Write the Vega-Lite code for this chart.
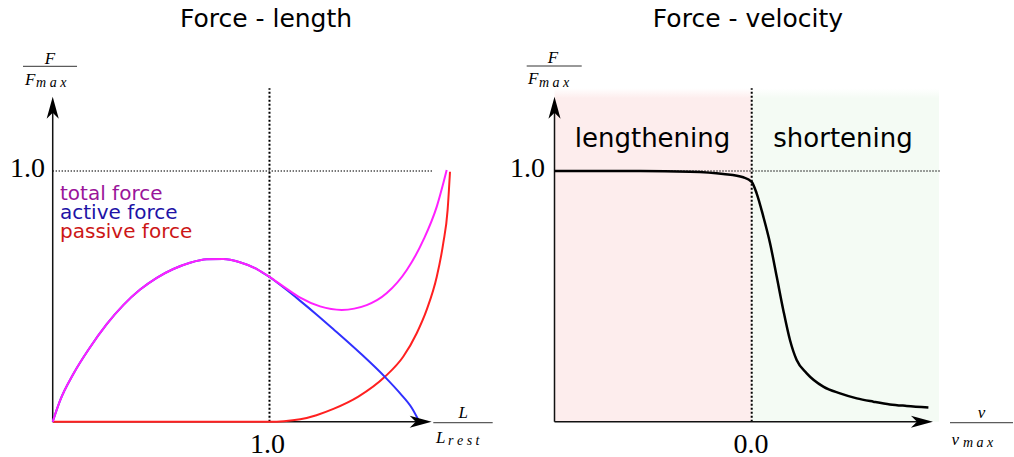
{
  "$schema": "https://vega.github.io/schema/vega-lite/v6.json",
  "background": "white",
  "padding": 0,
  "spacing": 0,
  "config": {"view": {"stroke": null}},
  "resolve": {"scale": {"x": "independent", "y": "independent", "color": "independent"}},
  "datasets": {
    "active": [
      {"x": 0.4, "y": 0}, {"x": 0.42, "y": 0.083}, {"x": 0.457, "y": 0.19}, {"x": 0.503, "y": 0.296},
      {"x": 0.549, "y": 0.388}, {"x": 0.596, "y": 0.466}, {"x": 0.642, "y": 0.527}, {"x": 0.688, "y": 0.574},
      {"x": 0.734, "y": 0.609}, {"x": 0.78, "y": 0.634}, {"x": 0.826, "y": 0.648}, {"x": 0.872, "y": 0.649},
      {"x": 0.918, "y": 0.636}, {"x": 0.965, "y": 0.609}, {"x": 1.0, "y": 0.577}, {"x": 1.04, "y": 0.534},
      {"x": 1.085, "y": 0.482}, {"x": 1.13, "y": 0.428}, {"x": 1.177, "y": 0.369}, {"x": 1.25, "y": 0.275},
      {"x": 1.32, "y": 0.178}, {"x": 1.361, "y": 0.114}, {"x": 1.394, "y": 0.055}, {"x": 1.412, "y": 0.008}
    ],
    "total": [
      {"x": 0.4, "y": 0}, {"x": 0.42, "y": 0.083}, {"x": 0.457, "y": 0.19}, {"x": 0.503, "y": 0.296},
      {"x": 0.549, "y": 0.388}, {"x": 0.596, "y": 0.466}, {"x": 0.642, "y": 0.527}, {"x": 0.688, "y": 0.574},
      {"x": 0.734, "y": 0.609}, {"x": 0.78, "y": 0.634}, {"x": 0.826, "y": 0.648}, {"x": 0.872, "y": 0.649},
      {"x": 0.918, "y": 0.636}, {"x": 0.965, "y": 0.609}, {"x": 1.0, "y": 0.578}, {"x": 1.04, "y": 0.538},
      {"x": 1.085, "y": 0.495}, {"x": 1.14, "y": 0.46}, {"x": 1.2, "y": 0.446}, {"x": 1.269, "y": 0.465},
      {"x": 1.324, "y": 0.512}, {"x": 1.38, "y": 0.605}, {"x": 1.426, "y": 0.725}, {"x": 1.463, "y": 0.858},
      {"x": 1.4905, "y": 1.004}
    ],
    "passive": [
      {"x": 0.4, "y": 0}, {"x": 0.7, "y": 0}, {"x": 1.0, "y": 0}, {"x": 1.04, "y": 0.002},
      {"x": 1.085, "y": 0.0096}, {"x": 1.13, "y": 0.026}, {"x": 1.177, "y": 0.051}, {"x": 1.246, "y": 0.1},
      {"x": 1.32, "y": 0.18}, {"x": 1.37, "y": 0.259}, {"x": 1.4075, "y": 0.353}, {"x": 1.435, "y": 0.446},
      {"x": 1.463, "y": 0.578}, {"x": 1.481, "y": 0.712}, {"x": 1.493, "y": 0.844}, {"x": 1.4996, "y": 0.997}
    ],
    "velocity": [
      {"x": -1, "y": 1.0}, {"x": -0.566, "y": 1.0}, {"x": -0.313, "y": 0.997}, {"x": -0.144, "y": 0.988},
      {"x": -0.043, "y": 0.975}, {"x": 0.0, "y": 0.957}, {"x": 0.025, "y": 0.911}, {"x": 0.059, "y": 0.818},
      {"x": 0.093, "y": 0.712}, {"x": 0.127, "y": 0.578}, {"x": 0.16, "y": 0.446}, {"x": 0.194, "y": 0.326},
      {"x": 0.228, "y": 0.246}, {"x": 0.279, "y": 0.193}, {"x": 0.363, "y": 0.14}, {"x": 0.448, "y": 0.113},
      {"x": 0.533, "y": 0.093}, {"x": 0.617, "y": 0.08}, {"x": 0.701, "y": 0.069}, {"x": 0.786, "y": 0.063},
      {"x": 0.896, "y": 0.057}
    ],
    "fl_axis_v": [{"x": 0.4, "y": 0, "y2": 1.25}],
    "fl_axis_h": [{"x": 0.4, "x2": 1.42, "y": 0}],
    "fl_tip_up": [{"x": 0.4, "y": 1.296}],
    "fl_tip_right": [{"x": 1.449, "y": 0}],
    "fl_dot_v": [{"x": 1.0, "y": 0, "y2": 1.33}],
    "fl_dot_h": [{"x": 0.4, "x2": 1.4534, "y": 1.0}],
    "fl_title": [{"x": 0.9904, "y": 1.5756, "label": "Force - length"}],
    "fl_legend": [
      {"x": 0.4202, "y": 0.8843, "label": "total force"},
      {"x": 0.4202, "y": 0.8073, "label": "active force"},
      {"x": 0.4202, "y": 0.7347, "label": "passive force"}
    ],
    "fl_ytick": [{"x": 0.3787, "y": 0.978, "label": "1.0"}],
    "fl_xtick": [{"x": 0.9945, "y": -0.1237, "label": "1.0"}],
    "fl_num": [{"x": 0.3925, "y": 1.4288, "label": "F"}, {"x": 1.5365, "y": 0.0136, "label": "L"}],
    "fl_den": [{"x": 0.3233, "y": 1.343, "label": "F"}, {"x": 1.4609, "y": -0.0862, "label": "L"}],
    "fl_sub": [{"x": 0.3538, "y": 1.3331, "label": "m a x"}, {"x": 1.4941, "y": -0.0949, "label": "r e s t"}],
    "fl_bar": [{"x": 0.3178, "x2": 0.4673, "y": 1.4176}, {"x": 1.4534, "x2": 1.6178, "y": -0.004}],
    "fv_len": [{"x": -1, "x2": 0, "y": 0, "y2": 1.33}],
    "fv_short": [{"x": 0, "x2": 0.95, "y": 0, "y2": 1.33}],
    "fv_axis_v": [{"x": -1, "y": 0, "y2": 1.25}],
    "fv_axis_h": [{"x": -1, "x2": 0.88, "y": 0}],
    "fv_tip_up": [{"x": -1, "y": 1.296}],
    "fv_tip_right": [{"x": 0.919, "y": 0}],
    "fv_dot_v": [{"x": 0, "y": 0, "y2": 1.33}],
    "fv_dot_h": [{"x": -1, "x2": 0.955, "y": 1.0}],
    "fv_title": [{"x": -0.0188, "y": 1.5756, "label": "Force - velocity"}],
    "fv_region": [{"x": -0.503, "y": 1.0945, "label": "lengthening"}, {"x": 0.463, "y": 1.0945, "label": "shortening"}],
    "fv_ytick": [{"x": -1.0482, "y": 0.976, "label": "1.0"}],
    "fv_xtick": [{"x": -0.0036, "y": -0.1237, "label": "0.0"}],
    "fv_num": [{"x": -1.0076, "y": 1.4296, "label": "F"}, {"x": 1.1653, "y": 0.0136, "label": "v"}],
    "fv_den": [{"x": -1.1344, "y": 1.3458, "label": "F"}, {"x": 1.0132, "y": -0.0929, "label": "v"}],
    "fv_sub": [{"x": -1.0786, "y": 1.336, "label": "m a x"}, {"x": 1.0715, "y": -0.1029, "label": "m a x"}],
    "fv_bar": [{"x": -1.141, "x2": -0.862, "y": 1.4188}, {"x": 1.0056, "x2": 1.3251, "y": -0.004}]
  },
  "hconcat": [
    {
      "width": 507,
      "height": 457,
      "encoding": {
        "x": {"field": "x", "type": "quantitative", "scale": {"domain": [0.2541, 1.6574], "nice": false, "zero": false}, "axis": null},
        "y": {"field": "y", "type": "quantitative", "scale": {"domain": [-0.1408, 1.6821], "nice": false, "zero": false}, "axis": null}
      },
      "layer": [
        {"data": {"name": "fl_dot_v"}, "mark": {"type": "rule", "color": "#000", "strokeWidth": 2, "strokeDash": [2, 2]}, "encoding": {"y2": {"field": "y2"}}},
        {"data": {"name": "fl_dot_h"}, "mark": {"type": "rule", "color": "#000", "strokeWidth": 1.4, "strokeDash": [1, 2]}, "encoding": {"x2": {"field": "x2"}}},
        {"data": {"name": "fl_axis_v"}, "mark": {"type": "rule", "color": "#111", "strokeWidth": 1.5}, "encoding": {"y2": {"field": "y2"}}},
        {"data": {"name": "fl_axis_h"}, "mark": {"type": "rule", "color": "#111", "strokeWidth": 1.5}, "encoding": {"x2": {"field": "x2"}}},
        {"data": {"name": "passive"}, "mark": {"type": "line", "color": "#ff2020", "strokeWidth": 2, "interpolate": "monotone"}, "encoding": {}},
        {"data": {"name": "active"}, "mark": {"type": "line", "color": "#3030ff", "strokeWidth": 2, "interpolate": "monotone"}, "encoding": {}},
        {"data": {"name": "total"}, "mark": {"type": "line", "color": "#ff20ff", "strokeWidth": 2, "interpolate": "monotone"}, "encoding": {}},
        {"data": {"name": "fl_tip_up"}, "mark": {"type": "point", "shape": "M0,0L0.55,2L0,1.45L-0.55,2Z", "size": 484, "filled": true, "color": "#000", "opacity": 1, "strokeWidth": 0, "angle": 0}, "encoding": {}},
        {"data": {"name": "fl_tip_right"}, "mark": {"type": "point", "shape": "M0,0L0.55,2L0,1.45L-0.55,2Z", "size": 484, "filled": true, "color": "#000", "opacity": 1, "strokeWidth": 0, "angle": 90}, "encoding": {}},
        {"data": {"name": "fl_title"}, "mark": {"type": "text", "font": "DejaVu Sans", "fontSize": 25, "align": "center", "baseline": "alphabetic", "color": "#000"}, "encoding": {"text": {"field": "label"}}},
        {"data": {"name": "fl_legend"}, "mark": {"type": "text", "font": "DejaVu Sans", "fontSize": 20, "align": "left", "baseline": "alphabetic", "lineHeight": 19},
         "encoding": {"text": {"field": "label"}, "color": {"field": "label", "type": "nominal", "scale": {"domain": ["total force", "active force", "passive force"], "range": ["#9a149a", "#2012a6", "#cc1616"]}, "legend": null}}},
        {"data": {"name": "fl_ytick"}, "mark": {"type": "text", "font": "Liberation Serif", "fontSize": 28, "align": "right", "baseline": "alphabetic", "color": "#000"}, "encoding": {"text": {"field": "label"}}},
        {"data": {"name": "fl_xtick"}, "mark": {"type": "text", "font": "Liberation Serif", "fontSize": 28, "align": "center", "baseline": "alphabetic", "color": "#000"}, "encoding": {"text": {"field": "label"}}},
        {"data": {"name": "fl_num"}, "mark": {"type": "text", "font": "Liberation Serif", "fontStyle": "italic", "fontSize": 17, "align": "center", "baseline": "alphabetic", "color": "#000"}, "encoding": {"text": {"field": "label"}}},
        {"data": {"name": "fl_den"}, "mark": {"type": "text", "font": "Liberation Serif", "fontStyle": "italic", "fontSize": 17, "align": "left", "baseline": "alphabetic", "color": "#000"}, "encoding": {"text": {"field": "label"}}},
        {"data": {"name": "fl_sub"}, "mark": {"type": "text", "font": "Liberation Serif", "fontStyle": "italic", "fontSize": 14, "align": "left", "baseline": "alphabetic", "color": "#000"}, "encoding": {"text": {"field": "label"}}},
        {"data": {"name": "fl_bar"}, "mark": {"type": "rule", "color": "#333", "strokeWidth": 1}, "encoding": {"x2": {"field": "x2"}}}
      ]
    },
    {
      "width": 507,
      "height": 457,
      "encoding": {
        "x": {"field": "x", "type": "quantitative", "scale": {"domain": [-1.2409, 1.3301], "nice": false, "zero": false}, "axis": null},
        "y": {"field": "y", "type": "quantitative", "scale": {"domain": [-0.1408, 1.6821], "nice": false, "zero": false}, "axis": null}
      },
      "layer": [
        {"data": {"name": "fv_len"}, "mark": {"type": "rect", "color": {"gradient": "linear", "x1": 0, "y1": 0, "x2": 0, "y2": 1, "stops": [{"offset": 0, "color": "#ffffff"}, {"offset": 0.03, "color": "#fdeded"}, {"offset": 1, "color": "#fdeded"}]}}, "encoding": {"x2": {"field": "x2"}, "y2": {"field": "y2"}}},
        {"data": {"name": "fv_short"}, "mark": {"type": "rect", "color": {"gradient": "linear", "x1": 0, "y1": 0, "x2": 0, "y2": 1, "stops": [{"offset": 0, "color": "#ffffff"}, {"offset": 0.03, "color": "#f4fbf4"}, {"offset": 1, "color": "#f4fbf4"}]}}, "encoding": {"x2": {"field": "x2"}, "y2": {"field": "y2"}}},
        {"data": {"name": "fv_dot_v"}, "mark": {"type": "rule", "color": "#000", "strokeWidth": 2, "strokeDash": [2, 2]}, "encoding": {"y2": {"field": "y2"}}},
        {"data": {"name": "fv_dot_h"}, "mark": {"type": "rule", "color": "#000", "strokeWidth": 1.4, "strokeDash": [1, 2]}, "encoding": {"x2": {"field": "x2"}}},
        {"data": {"name": "fv_axis_v"}, "mark": {"type": "rule", "color": "#111", "strokeWidth": 1.5}, "encoding": {"y2": {"field": "y2"}}},
        {"data": {"name": "fv_axis_h"}, "mark": {"type": "rule", "color": "#111", "strokeWidth": 1.5}, "encoding": {"x2": {"field": "x2"}}},
        {"data": {"name": "velocity"}, "mark": {"type": "line", "color": "#000", "strokeWidth": 2.5, "interpolate": "monotone"}, "encoding": {}},
        {"data": {"name": "fv_tip_up"}, "mark": {"type": "point", "shape": "M0,0L0.55,2L0,1.45L-0.55,2Z", "size": 484, "filled": true, "color": "#000", "opacity": 1, "strokeWidth": 0, "angle": 0}, "encoding": {}},
        {"data": {"name": "fv_tip_right"}, "mark": {"type": "point", "shape": "M0,0L0.55,2L0,1.45L-0.55,2Z", "size": 484, "filled": true, "color": "#000", "opacity": 1, "strokeWidth": 0, "angle": 90}, "encoding": {}},
        {"data": {"name": "fv_title"}, "mark": {"type": "text", "font": "DejaVu Sans", "fontSize": 25, "align": "center", "baseline": "alphabetic", "color": "#000"}, "encoding": {"text": {"field": "label"}}},
        {"data": {"name": "fv_region"}, "mark": {"type": "text", "font": "DejaVu Sans", "fontSize": 26, "align": "center", "baseline": "alphabetic", "color": "#000"}, "encoding": {"text": {"field": "label"}}},
        {"data": {"name": "fv_ytick"}, "mark": {"type": "text", "font": "Liberation Serif", "fontSize": 28, "align": "right", "baseline": "alphabetic", "color": "#000"}, "encoding": {"text": {"field": "label"}}},
        {"data": {"name": "fv_xtick"}, "mark": {"type": "text", "font": "Liberation Serif", "fontSize": 28, "align": "center", "baseline": "alphabetic", "color": "#000"}, "encoding": {"text": {"field": "label"}}},
        {"data": {"name": "fv_num"}, "mark": {"type": "text", "font": "Liberation Serif", "fontStyle": "italic", "fontSize": 17, "align": "center", "baseline": "alphabetic", "color": "#000"}, "encoding": {"text": {"field": "label"}}},
        {"data": {"name": "fv_den"}, "mark": {"type": "text", "font": "Liberation Serif", "fontStyle": "italic", "fontSize": 17, "align": "left", "baseline": "alphabetic", "color": "#000"}, "encoding": {"text": {"field": "label"}}},
        {"data": {"name": "fv_sub"}, "mark": {"type": "text", "font": "Liberation Serif", "fontStyle": "italic", "fontSize": 14, "align": "left", "baseline": "alphabetic", "color": "#000"}, "encoding": {"text": {"field": "label"}}},
        {"data": {"name": "fv_bar"}, "mark": {"type": "rule", "color": "#333", "strokeWidth": 1}, "encoding": {"x2": {"field": "x2"}}}
      ]
    }
  ]
}
